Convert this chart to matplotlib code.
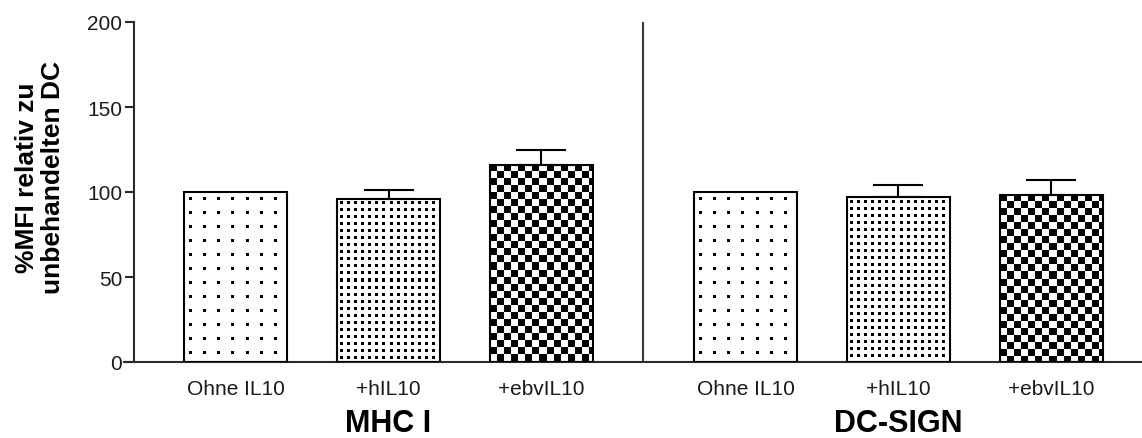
import matplotlib
matplotlib.use("Agg")
import matplotlib.pyplot as plt
import matplotlib.transforms as mtransforms
import numpy as np

# values (% MFI relative to untreated DC)
groups = ["MHC I", "DC-SIGN"]
treatments = ["Ohne IL10", "+hIL10", "+ebvIL10"]
mhc_means = [100, 96, 116]
mhc_sem = [0, 5, 8.5]
dcsign_means = [100, 97, 98.5]
dcsign_sem = [0, 7, 8.5]
yticks = [0, 50, 100, 150, 200]

plt.rcParams["font.family"] = ["Liberation Sans", "DejaVu Sans"]

W, H = 1142, 439
fig = plt.figure(figsize=(W / 100, H / 100), dpi=100)
# axes box in pixels: x 124..1142, y 23..363
ax = fig.add_axes([124 / W, (H - 363) / H, (W - 124) / W, 340 / H])

group_gap = 1 / 3
bar_w = 0.675
means = [mhc_means, dcsign_means]
sems = [mhc_sem, dcsign_sem]
n = len(treatments)

xs, vals, errs, labels = [], [], [], []
for g in range(len(groups)):
    for i in range(n):
        xs.append(g * (n + group_gap) + i)
        vals.append(means[g][i])
        errs.append(sems[g][i])
        labels.append(treatments[i])
xs = np.array(xs, dtype=float)

x_left = xs[0] - 0.729
ax.set_xlim(x_left, xs[-1] + 0.592)
ax.set_ylim(0, 200)


def texture(kind, h, w):
    ii, jj = np.mgrid[0:h, 0:w]
    if kind == 0:
        black = (ii % 14 >= 5) & (ii % 14 < 8) & (jj % 14 >= 5) & (jj % 14 < 8)
    elif kind == 1:
        black = (ii % 7 >= 3) & (ii % 7 < 6) & (jj % 7 >= 3) & (jj % 7 < 6)
    else:
        black = ((ii // 7) + (jj // 7)) % 2 == 0
    return np.where(black, 0.0, 1.0)


bars = ax.bar(xs, vals, width=bar_w, facecolor="none", edgecolor="black",
              linewidth=1.5, zorder=3)
for k, patch in enumerate(bars):
    x0, y0 = patch.get_x(), patch.get_y()
    x1, y1 = x0 + patch.get_width(), y0 + patch.get_height()
    p0 = ax.transData.transform((x0, y0))
    p1 = ax.transData.transform((x1, y1))
    pw = int(round(abs(p1[0] - p0[0])))
    ph = int(round(abs(p1[1] - p0[1])))
    img = texture(k % n, ph, pw)
    im = ax.imshow(img, cmap="gray", vmin=0, vmax=1, extent=(x0, x1, y0, y1),
                   origin="upper", interpolation="nearest", aspect="auto", zorder=2)
    im.set_clip_path(patch)

for x, v, e in zip(xs, vals, errs):
    if e > 0:
        ax.errorbar([x], [v], yerr=[[0], [e]], fmt="none", ecolor="black",
                    elinewidth=1.5, capsize=18, capthick=1.5, zorder=4)

ax.set_xlim(x_left, xs[-1] + 0.592)
ax.set_ylim(0, 200)

# divider between the two panels
div_x = (xs[n - 1] + xs[n]) / 2
ax.plot([div_x, div_x], [0, 200], color="#3a3a3a", linewidth=1.5, zorder=1)

for s in ["top", "right"]:
    ax.spines[s].set_visible(False)
ax.spines["left"].set_position(("data", xs[0] - 0.663))
for s in ["left", "bottom"]:
    ax.spines[s].set_linewidth(1.5)
    ax.spines[s].set_color("#2a2a2a")

ax.set_yticks(yticks)
ax.set_yticklabels([str(t) for t in yticks])
ax.tick_params(axis="y", length=6.5, width=1.5, labelsize=15, pad=2,
               color="#2a2a2a", labelcolor="#1a1a1a")
ax.set_xticks(xs)
ax.set_xticklabels(labels)
ax.tick_params(axis="x", length=0, labelsize=15, pad=12, labelcolor="#1a1a1a")

trans = mtransforms.blended_transform_factory(ax.transData, ax.transAxes)
for g, name in enumerate(groups):
    cx = xs[g * n:(g + 1) * n].mean()
    ax.text(cx, -0.18, name, transform=trans, ha="center", va="center",
            fontsize=22, fontweight="bold")

fig.text(40 / W, 1 - 178 / H, "%MFI relativ zu\nunbehandelten DC", rotation=90,
         ha="center", va="center", multialignment="center", fontsize=19,
         fontweight="bold", linespacing=1.12)

fig.savefig("out.png", dpi=100)
